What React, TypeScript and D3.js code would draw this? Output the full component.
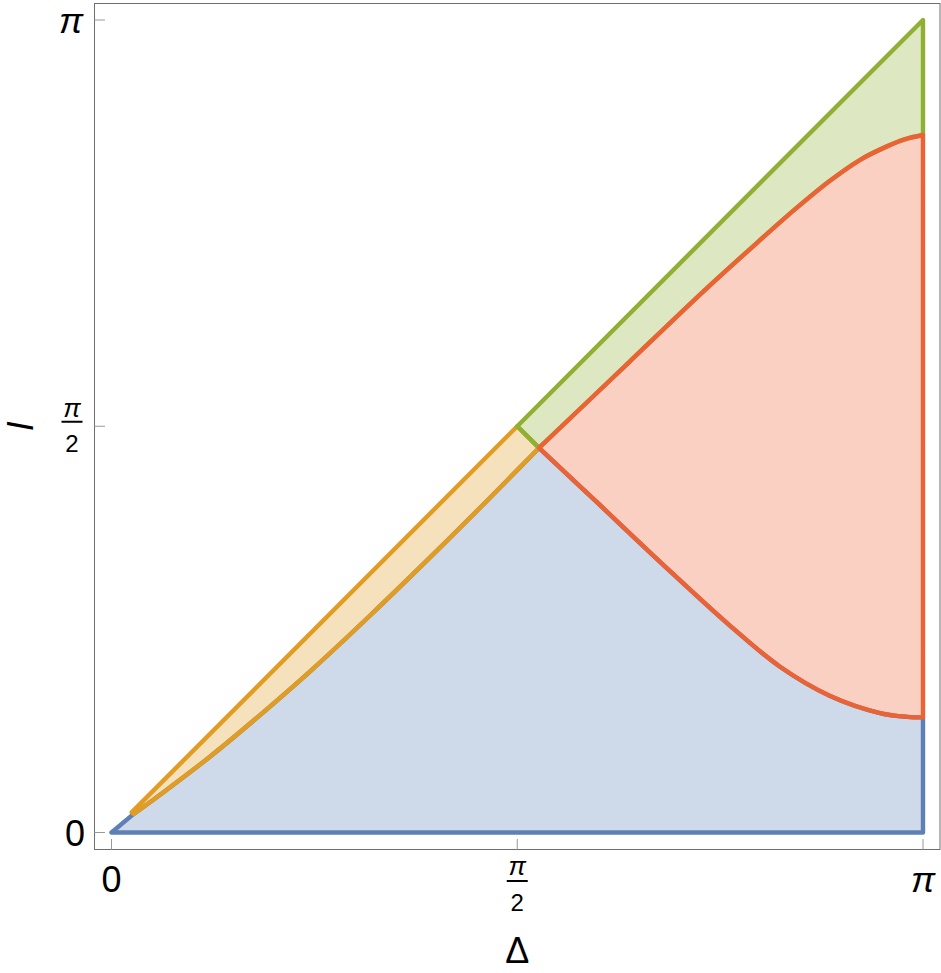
import * as d3 from "d3";

const PI = Math.PI;

// axis ticks (0, pi/2, pi on both axes)
const xTickValues = [0, PI / 2, PI];
const yTickValues = [0, PI / 2, PI];

// boundary points, [Delta, I]
const orangeTop: [number, number][] = [[0.078, 0.078], [PI / 2, PI / 2]];
const orangeLower: [number, number][] = [
  [0.086, 0.072], [0.2, 0.155], [0.381, 0.293], [0.575, 0.454], [0.77, 0.624],
  [1.0, 0.838], [1.25, 1.08], [1.45, 1.279], [1.655, 1.487],
];
const redUpper: [number, number][] = [
  [1.655, 1.487], [2.0, 1.815], [2.3, 2.1], [2.5, 2.281], [2.65, 2.413],
  [2.78, 2.519], [2.9, 2.602], [3.0, 2.652], [3.07, 2.68], [PI, 2.697],
];
const redLower: [number, number][] = [
  [1.655, 1.487], [1.878, 1.278], [2.136, 1.035], [2.394, 0.8],
  [2.588, 0.641], [2.782, 0.528], [2.975, 0.462], [3.08, 0.447], [PI, 0.445],
];

const colors = {
  blue: "#5E81B5",
  orange: "#E19C24",
  green: "#8FB032",
  red: "#EB6235",
};

export default function App() {
  const width = 941;
  const height = 973;
  const frame = { left: 94.5, top: 3.5, right: 940, bottom: 849.5 };

  const x = d3.scaleLinear().domain([0, PI]).range([111.5, 923]);
  const y = d3.scaleLinear().domain([0, PI]).range([832.5, 20]);

  const curve = d3
    .line<[number, number]>()
    .x((d) => x(d[0]))
    .y((d) => y(d[1]))
    .curve(d3.curveCatmullRom.alpha(0.5));

  const pt = (d: [number, number]) => `${x(d[0])},${y(d[1])}`;
  const join = (pts: [number, number][]) => (curve(pts) || "").replace(/^M/, "L");
  const rev = (pts: [number, number][]) => pts.slice().reverse();

  const P = redUpper[0];
  const redTop: [number, number] = redUpper[redUpper.length - 1];
  const redBot: [number, number] = redLower[redLower.length - 1];

  const bluePath =
    `M${pt([0, 0])}L${pt([PI, 0])}L${pt(redBot)}` +
    join(rev(redLower)) + join(rev(orangeLower)) + "Z";
  const orangePath =
    `M${pt(orangeTop[0])}L${pt(orangeTop[1])}L${pt(P)}` +
    join(rev(orangeLower)) + "Z";
  const greenPath =
    `M${pt([PI / 2, PI / 2])}L${pt([PI, PI])}L${pt(redTop)}` +
    join(rev(redUpper)) + "Z";
  const redPath =
    `M${pt(P)}` + join(redUpper) + `L${pt(redBot)}` + join(rev(redLower)) + "Z";

  const regions = [
    { d: bluePath, c: colors.blue },
    { d: orangePath, c: colors.orange },
    { d: greenPath, c: colors.green },
    { d: redPath, c: colors.red },
  ];

  const font = "'Liberation Sans', Arial, sans-serif";

  const fracLabel = (cx: number, piBase: number, bar: number, twoBase: number, key: string) => (
    <g key={key} fontFamily={font} fill="black">
      <text x={cx} y={piBase} fontSize={26} fontStyle="italic" textAnchor="middle">π</text>
      <line x1={cx - 10.5} x2={cx + 10.5} y1={bar} y2={bar} stroke="black" strokeWidth={2} />
      <text x={cx} y={twoBase} fontSize={24} textAnchor="middle">2</text>
    </g>
  );

  return (
    <svg
      width={width}
      height={height}
      style={{ position: "absolute", left: 0, top: 0, background: "white" }}
    >
      {regions.map((r, i) => (
        <path
          key={i}
          d={r.d}
          fill={r.c}
          fillOpacity={0.3}
          stroke={r.c}
          strokeWidth={4.4}
          strokeLinejoin="round"
        />
      ))}

      {/* frame */}
      <rect
        x={frame.left}
        y={frame.top}
        width={frame.right - frame.left}
        height={frame.bottom - frame.top}
        fill="none"
        stroke="#6e6e6e"
        strokeWidth={1}
      />

      {/* y ticks */}
      {yTickValues.map((t) => (
        <line key={"yt" + t} x1={frame.left} x2={frame.left + 10.5} y1={y(t)} y2={y(t)} stroke="#999" />
      ))}
      {/* x ticks */}
      {xTickValues.map((t) => (
        <line key={"xt" + t} x1={x(t)} x2={x(t)} y1={frame.bottom} y2={frame.bottom - 10.5} stroke="#999" />
      ))}

      {/* y tick labels */}
      <text x={85} y={y(0) + 13} fontSize={36} fontFamily={font} textAnchor="end">0</text>
      {fracLabel(72, y(PI / 2) - 9.5, y(PI / 2) - 4.5, y(PI / 2) + 25.5, "yfrac")}
      <text x={83} y={y(PI) + 13} fontSize={36} fontFamily={font} fontStyle="italic" textAnchor="end">π</text>

      {/* x tick labels */}
      <text x={x(0)} y={891.5} fontSize={36} fontFamily={font} textAnchor="middle">0</text>
      {fracLabel(x(PI / 2), 875, 881, 911, "xfrac")}
      <text x={x(PI)} y={891.5} fontSize={36} fontFamily={font} fontStyle="italic" textAnchor="middle">π</text>

      {/* axis labels */}
      <text x={x(PI / 2)} y={962.5} fontSize={36} fontFamily={font} textAnchor="middle">Δ</text>
      <text
        transform={`translate(33, ${y(PI / 2)}) rotate(-90)`}
        fontSize={36}
        fontFamily={font}
        fontStyle="italic"
        textAnchor="middle"
      >
        I
      </text>
    </svg>
  );
}
